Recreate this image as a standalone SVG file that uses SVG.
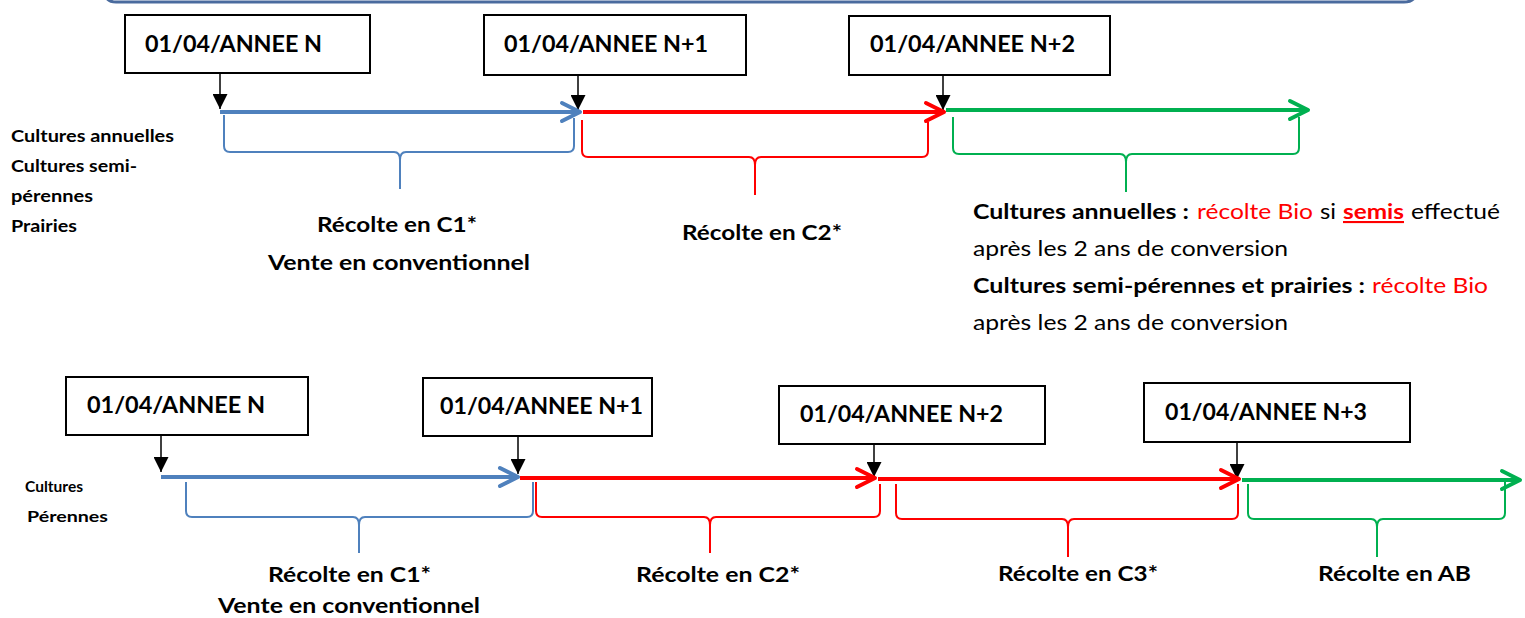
<svg xmlns="http://www.w3.org/2000/svg" width="1525" height="618" viewBox="0 0 1525 618">
<style>
text{font-family:Lato,"Liberation Sans",sans-serif;fill:#000}
.b{font-weight:bold}
.box rect{fill:#fff;stroke:#000;stroke-width:2}
.box text{font-size:23px;font-weight:bold}
.side{font-size:17px;font-weight:bold}
.rec{font-size:21px;font-weight:bold}
.body{font-size:21px}
.red{fill:#ff0000}
.tl{fill:none;stroke-width:4}
.br{fill:none;stroke-width:2}
.ptr{stroke:#000;stroke-width:1.5;fill:none}
</style>
<defs>
<marker id="ah" viewBox="0 0 14 15" refX="15" refY="7.5" markerWidth="15" markerHeight="15" markerUnits="userSpaceOnUse" orient="auto"><path d="M0,0 L15,7.5 L0,15 z" fill="#000"/></marker>
<marker id="cb" viewBox="-3 -3 26 26" refX="20" refY="10" markerWidth="26" markerHeight="26" markerUnits="userSpaceOnUse" orient="auto"><path d="M2,1 L20,10 L2,19" fill="none" stroke="#4f81bd" stroke-width="4" stroke-linecap="round" stroke-linejoin="round"/></marker>
<marker id="cr" viewBox="-3 -3 26 26" refX="20" refY="10" markerWidth="26" markerHeight="26" markerUnits="userSpaceOnUse" orient="auto"><path d="M2,1 L20,10 L2,19" fill="none" stroke="#ff0000" stroke-width="4" stroke-linecap="round" stroke-linejoin="round"/></marker>
<marker id="cg" viewBox="-3 -3 26 26" refX="20" refY="10" markerWidth="26" markerHeight="26" markerUnits="userSpaceOnUse" orient="auto"><path d="M2,1 L20,10 L2,19" fill="none" stroke="#00b050" stroke-width="4" stroke-linecap="round" stroke-linejoin="round"/></marker>
</defs>

<path d="M104,-12 Q104,2 116,2 L1404,2 Q1417,2 1417,-12" fill="none" stroke="#4a6b9e" stroke-width="3"/>

<!-- top row nodes -->
<g id="t-n" class="box"><rect x="125" y="15" width="245" height="58"/><text x="145" y="52" textLength="177" lengthAdjust="spacingAndGlyphs">01/04/ANNEE N</text></g>
<g id="t-n1" class="box"><rect x="484" y="15" width="262" height="60"/><text x="504" y="52" textLength="204" lengthAdjust="spacingAndGlyphs">01/04/ANNEE N+1</text></g>
<g id="t-n2" class="box"><rect x="849" y="16" width="261" height="59"/><text x="870" y="52" textLength="205" lengthAdjust="spacingAndGlyphs">01/04/ANNEE N+2</text></g>

<g id="t-labels-left">
<text class="side" x="11" y="142" textLength="163" lengthAdjust="spacingAndGlyphs">Cultures annuelles</text>
<text class="side" x="11" y="172" textLength="126" lengthAdjust="spacingAndGlyphs">Cultures semi-</text>
<text class="side" x="11" y="202" textLength="82" lengthAdjust="spacingAndGlyphs">pérennes</text>
<text class="side" x="11" y="232" textLength="66" lengthAdjust="spacingAndGlyphs">Prairies</text>
</g>
<g id="t-c1"><text class="rec" x="317" y="232" textLength="160" lengthAdjust="spacingAndGlyphs">Récolte en C1*</text><text class="rec" x="268" y="270" textLength="262" lengthAdjust="spacingAndGlyphs">Vente en conventionnel</text></g>
<g id="t-c2"><text class="rec" x="682" y="240" textLength="160" lengthAdjust="spacingAndGlyphs">Récolte en C2*</text></g>
<g id="t-bio" class="body">
<text class="body b" x="973" y="219" textLength="216" lengthAdjust="spacingAndGlyphs">Cultures annuelles :</text>
<text class="body red" x="1197" y="219" textLength="116" lengthAdjust="spacingAndGlyphs">récolte Bio</text>
<text class="body" x="1320" y="219" textLength="16" lengthAdjust="spacingAndGlyphs">si</text>
<text class="body b red" x="1343" y="219" textLength="61" lengthAdjust="spacingAndGlyphs" text-decoration="underline">semis</text>
<text class="body" x="1411" y="219" textLength="89" lengthAdjust="spacingAndGlyphs">effectué</text>
<text class="body" x="973" y="256" textLength="315" lengthAdjust="spacingAndGlyphs">après les 2 ans de conversion</text>
<text class="body b" x="973" y="293" textLength="392" lengthAdjust="spacingAndGlyphs">Cultures semi-pérennes et prairies :</text>
<text class="body red" x="1372" y="293" textLength="116" lengthAdjust="spacingAndGlyphs">récolte Bio</text>
<text class="body" x="973" y="330" textLength="315" lengthAdjust="spacingAndGlyphs">après les 2 ans de conversion</text>
</g>

<!-- bottom row nodes -->
<g id="b-n" class="box"><rect x="66" y="377" width="242" height="58"/><text x="87" y="413" textLength="178" lengthAdjust="spacingAndGlyphs">01/04/ANNEE N</text></g>
<g id="b-n1" class="box"><rect x="423" y="378" width="229" height="58"/><text x="440" y="414" textLength="203" lengthAdjust="spacingAndGlyphs">01/04/ANNEE N+1</text></g>
<g id="b-n2" class="box"><rect x="779" y="386" width="266" height="58"/><text x="800" y="422" textLength="203" lengthAdjust="spacingAndGlyphs">01/04/ANNEE N+2</text></g>
<g id="b-n3" class="box"><rect x="1144" y="383" width="266" height="59"/><text x="1165" y="420" textLength="202" lengthAdjust="spacingAndGlyphs">01/04/ANNEE N+3</text></g>

<g id="b-labels-left">
<text class="side" x="25" y="492" textLength="58" lengthAdjust="spacingAndGlyphs" style="font-size:16px">Cultures</text>
<text class="side" x="27" y="522" textLength="81" lengthAdjust="spacingAndGlyphs" style="font-size:16px">Pérennes</text>
</g>
<g id="b-c1"><text class="rec" x="268" y="582" textLength="163" lengthAdjust="spacingAndGlyphs">Récolte en C1*</text><text class="rec" x="218" y="613" textLength="262" lengthAdjust="spacingAndGlyphs">Vente en conventionnel</text></g>
<g id="b-c2"><text class="rec" x="636" y="582" textLength="164" lengthAdjust="spacingAndGlyphs">Récolte en C2*</text></g>
<g id="b-c3"><text class="rec" x="998" y="581" textLength="160" lengthAdjust="spacingAndGlyphs">Récolte en C3*</text></g>
<g id="b-ab"><text class="rec" x="1318" y="581" textLength="153" lengthAdjust="spacingAndGlyphs">Récolte en AB</text></g>

<g id="connectors">
<!-- pointers -->
<path class="ptr" d="M220,73 L220,109" marker-end="url(#ah)"/>
<path class="ptr" d="M578,75 L578,110" marker-end="url(#ah)"/>
<path class="ptr" d="M943,75 L943,110" marker-end="url(#ah)"/>
<path class="ptr" d="M161,435 L161,472" marker-end="url(#ah)"/>
<path class="ptr" d="M518,436 L518,474" marker-end="url(#ah)"/>
<path class="ptr" d="M874,444 L874,477" marker-end="url(#ah)"/>
<path class="ptr" d="M1237,442 L1237,479" marker-end="url(#ah)"/>
<!-- timelines -->
<path class="tl" stroke="#4f81bd" d="M220,112 L580,112" marker-end="url(#cb)"/>
<path class="tl" stroke="#ff0000" d="M583,112 L944,112" marker-end="url(#cr)"/>
<path class="tl" stroke="#00b050" d="M946,110 L1308,110" marker-end="url(#cg)"/>
<path class="tl" stroke="#4f81bd" d="M161,477 L518,477" marker-end="url(#cb)"/>
<path class="tl" stroke="#ff0000" d="M520,478 L875,478" marker-end="url(#cr)"/>
<path class="tl" stroke="#ff0000" d="M878,479 L1239,479" marker-end="url(#cr)"/>
<path class="tl" stroke="#00b050" d="M1242,480 L1520,480" marker-end="url(#cg)"/>
<!-- braces -->
<path class="br" stroke="#4f81bd" d="M224,115 L224,146 Q224,152 230,152 L394,152 Q400,152 400,160 L400,189 M400,160 Q400,152 406,152 L568,152 Q574,152 574,146 L574,118"/>
<path class="br" stroke="#ff0000" d="M582,120 L582,151 Q582,157 588,157 L749,157 Q755,157 755,165 L755,195 M755,165 Q755,157 761,157 L922,157 Q928,157 928,151 L928,122"/>
<path class="br" stroke="#00b050" d="M953,117 L953,148 Q953,154 959,154 L1120,154 Q1126,154 1126,162 L1126,192 M1126,162 Q1126,154 1132,154 L1293,154 Q1299,154 1299,148 L1299,117"/>
<path class="br" stroke="#4f81bd" d="M186,482 L186,511 Q186,517 192,517 L353,517 Q359,517 359,525 L359,553 M359,525 Q359,517 365,517 L527,517 Q533,517 533,511 L533,482"/>
<path class="br" stroke="#ff0000" d="M536,482 L536,511 Q536,517 542,517 L704,517 Q710,517 710,525 L710,553 M710,525 Q710,517 716,517 L874,517 Q880,517 880,511 L880,484"/>
<path class="br" stroke="#ff0000" d="M896,484 L896,513 Q896,519 902,519 L1062,519 Q1068,519 1068,527 L1068,557 M1068,527 Q1068,519 1074,519 L1232,519 Q1238,519 1238,513 L1238,484"/>
<path class="br" stroke="#00b050" d="M1248,484 L1248,513 Q1248,519 1254,519 L1371,519 Q1377,519 1377,527 L1377,557 M1377,527 Q1377,519 1383,519 L1499,519 Q1505,519 1505,513 L1505,482"/>
</g>
</svg>
